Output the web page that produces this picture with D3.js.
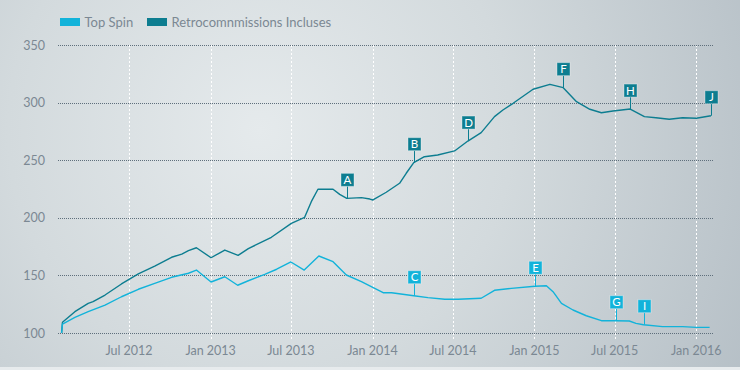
<!DOCTYPE html>
<html>
<head>
<meta charset="utf-8">
<script src="https://cdn.jsdelivr.net/npm/d3@7"></script>
<style>
    body { margin: 0; }
    #chart { width: 740px; height: 370px; }
</style>
</head>
<body>
<div id="chart"></div>
<script>
//<data>--------------------------------------//
var retroDates = [
    "2012-01-31", "2012-02-02", "2012-03-01", "2012-03-31", "2012-04-11", "2012-05-08", "2012-06-14",
    "2012-07-22", "2012-08-28", "2012-10-05", "2012-10-28", "2012-11-12", "2012-11-30", "2013-01-02",
    "2013-02-02", "2013-03-04", "2013-03-27", "2013-05-18", "2013-07-02", "2013-08-01", "2013-08-16",
    "2013-08-31", "2013-10-04", "2013-10-19", "2013-11-04", "2013-12-07", "2013-12-26", "2014-01-02",
    "2014-02-01", "2014-03-03", "2014-03-18", "2014-04-04", "2014-04-28", "2014-05-28", "2014-07-05",
    "2014-08-04", "2014-09-03", "2014-10-03", "2014-10-22", "2014-11-14", "2014-12-29", "2015-02-05",
    "2015-03-07", "2015-04-06", "2015-05-06", "2015-06-01", "2015-06-27", "2015-08-05", "2015-09-06",
    "2015-10-02", "2015-11-01", "2015-12-01", "2016-01-01", "2016-02-03"
];
var retroValues = [
    100, 109.3, 118.5, 125.8, 127.2, 133, 142.6,
    151.3, 158.2, 165.8, 168.6, 171.5, 174.1, 165.4,
    172.1, 167.5, 173.3, 183.2, 195.3, 200.5, 214.1,
    224.9, 224.9, 220.5, 217, 217.6, 216.4, 215.6,
    222.3, 230.1, 238.8, 248, 253.2, 254.7, 258.2,
    266.8, 274.1, 288, 293.8, 299.6, 311.8, 316.1,
    313.2, 301, 294.4, 291.4, 292.9, 294.6, 288,
    287.1, 285.7, 287.1, 286.6, 288.8
];
var topDates = [
    "2012-01-31", "2012-02-02", "2012-03-01", "2012-03-31", "2012-05-08", "2012-06-14", "2012-07-22",
    "2012-08-28", "2012-10-05", "2012-11-12", "2012-11-30", "2013-01-02", "2013-02-02", "2013-03-03",
    "2013-03-27", "2013-05-03", "2013-05-30", "2013-07-01", "2013-07-31", "2013-09-02", "2013-10-04",
    "2013-11-03", "2013-12-07", "2014-01-06", "2014-01-25", "2014-02-13", "2014-04-04", "2014-05-06",
    "2014-06-13", "2014-07-13", "2014-09-03", "2014-10-03", "2014-11-10", "2015-01-02", "2015-01-28",
    "2015-02-12", "2015-03-03", "2015-03-29", "2015-04-28", "2015-06-01", "2015-07-03", "2015-08-03",
    "2015-08-18", "2015-09-04", "2015-10-17", "2015-12-01", "2016-01-01", "2016-01-31"
];
var topValues = [
    100, 107.8, 113.6, 118.5, 124.3, 131.5, 138,
    143.2, 148.4, 151.9, 154.7, 144.3, 148.9, 141.5,
    145.4, 151, 155.4, 161.7, 154.7, 166.9, 162,
    150.4, 144.6, 138.8, 135, 135, 132.4, 130.7,
    129.3, 129.3, 130.2, 137.1, 138.8, 140.6, 141.1,
    135.9, 125.8, 120, 115, 110.7, 110.7, 110.4,
    108.4, 107.2, 105.5, 105.5, 104.9, 104.9
];
var flagLetters = ["A", "B", "C", "D", "E", "F", "G", "H", "I", "J"];
var flagDates = ["2013-11-04", "2014-04-04", "2014-04-04", "2014-08-04", "2015-01-02",
    "2015-03-07", "2015-07-03", "2015-08-05", "2015-09-04", "2016-02-03"];
var flagSeries = ["retro", "retro", "top", "retro", "top", "retro", "top", "retro", "top", "retro"];
var seriesNames = ["Top Spin", "Retrocomnmissions Incluses"];
var yTicks = [100, 150, 200, 250, 300, 350];
var xTicks = ["2012-07-01", "2013-01-01", "2013-07-01", "2014-01-01", "2014-07-01",
    "2015-01-01", "2015-07-01", "2016-01-01"];

var colTop = "#12b3da", colRetro = "#0d7d90";
var colText = "#7b8893";
var font = "Lato, 'Open Sans', sans-serif";

//<svg>---------------------------------------//
var W = 740, H = 370;
var parse = d3.timeParse("%Y-%m-%d");
var svg = d3.select("#chart").append("svg").attr("width", W).attr("height", H);

var defs = svg.append("defs");
var grad = defs.append("radialGradient").attr("id", "bg")
    .attr("gradientUnits", "userSpaceOnUse")
    .attr("cx", 260).attr("cy", 130).attr("r", 560);
grad.append("stop").attr("offset", "0").attr("stop-color", "#e5eaec");
grad.append("stop").attr("offset", "0.45").attr("stop-color", "#d3dadd");
grad.append("stop").attr("offset", "1").attr("stop-color", "#b4bec5");
svg.append("rect").attr("width", W).attr("height", H).attr("fill", "url(#bg)");
svg.append("rect").attr("x", 0).attr("y", 367).attr("width", W).attr("height", 3).attr("fill", "#e7ebed");

//<scales>------------------------------------//
var x = d3.scaleTime().domain([parse("2012-07-01"), parse("2016-01-01")]).range([129, 696.3]);
var y = d3.scaleLinear().domain([100, 350]).range([333, 45.3]);
var left = 58, right = 714;

//<grid>--------------------------------------//
svg.append("g").selectAll("line").data(xTicks).enter().append("line")
    .attr("x1", function (d) { return Math.round(x(parse(d))) + 0.5; })
    .attr("x2", function (d) { return Math.round(x(parse(d))) + 0.5; })
    .attr("y1", 45).attr("y2", 341)
    .attr("stroke", "#ffffff").attr("stroke-width", 1).attr("stroke-dasharray", "2,2");
svg.append("g").selectAll("line").data(yTicks).enter().append("line")
    .attr("x1", left).attr("x2", right)
    .attr("y1", function (d) { return Math.round(y(d)) + 0.5; })
    .attr("y2", function (d) { return Math.round(y(d)) + 0.5; })
    .attr("stroke", "#5f6f7c").attr("stroke-width", 1).attr("stroke-dasharray", "1,1");

//<axes labels>-------------------------------//
svg.append("g").selectAll("text").data(yTicks).enter().append("text")
    .attr("x", 45).attr("y", function (d) { return y(d) + 4.5; })
    .attr("text-anchor", "end").attr("fill", colText)
    .style("font-family", font).style("font-size", "12.5px")
    .text(function (d) { return d; });
var fmt = d3.timeFormat("%b %Y");
svg.append("g").selectAll("text").data(xTicks).enter().append("text")
    .attr("x", function (d) { return x(parse(d)); }).attr("y", 355)
    .attr("text-anchor", "middle").attr("fill", colText)
    .style("font-family", font).style("font-size", "12.5px")
    .text(function (d) { return fmt(parse(d)); });

//<lines>-------------------------------------//
var retroData = retroDates.map(function (d, i) { return { date: parse(d), value: retroValues[i] }; });
var topData = topDates.map(function (d, i) { return { date: parse(d), value: topValues[i] }; });
var line = d3.line().x(function (d) { return x(d.date); }).y(function (d) { return y(d.value); });

svg.append("path").datum(retroData).attr("d", line)
    .attr("fill", "none").attr("stroke", colRetro).attr("stroke-width", 1.4).attr("stroke-linejoin", "round");
svg.append("path").datum(topData).attr("d", line)
    .attr("fill", "none").attr("stroke", colTop).attr("stroke-width", 1.4).attr("stroke-linejoin", "round");

//<flags>-------------------------------------//
var gFlags = svg.append("g");
flagLetters.forEach(function (l, i) {
    var src = flagSeries[i] == "retro" ? retroData : topData;
    var col = flagSeries[i] == "retro" ? colRetro : colTop;
    var dt = parse(flagDates[i]);
    var p = src.find(function (d) { return +d.date == +dt; });
    var px = Math.round(x(p.date)) + 0.5, py = y(p.value);
    gFlags.append("line").attr("x1", px).attr("x2", px).attr("y1", py).attr("y2", py - 12)
        .attr("stroke", col).attr("stroke-width", 1);
    gFlags.append("rect").attr("x", px - 6.5).attr("y", py - 25).attr("width", 13).attr("height", 13)
        .attr("fill", col).attr("stroke", "#ffffff").attr("stroke-opacity", 0.35).attr("stroke-width", 1);
    gFlags.append("text").attr("x", px).attr("y", py - 14.5)
        .attr("text-anchor", "middle").attr("fill", "#ffffff")
        .style("font-family", font).style("font-size", "11.5px")
        .text(l);
});

//<legend>------------------------------------//
var lg = svg.append("g");
var legX = [60, 147];
seriesNames.forEach(function (n, i) {
    lg.append("rect").attr("x", legX[i]).attr("y", 18).attr("width", 20).attr("height", 8)
        .attr("fill", i == 0 ? colTop : colRetro);
    lg.append("text").attr("x", legX[i] + 24.5).attr("y", 27)
        .attr("fill", colText).style("font-family", font).style("font-size", "13px")
        .text(n);
});
</script>
</body>
</html>
